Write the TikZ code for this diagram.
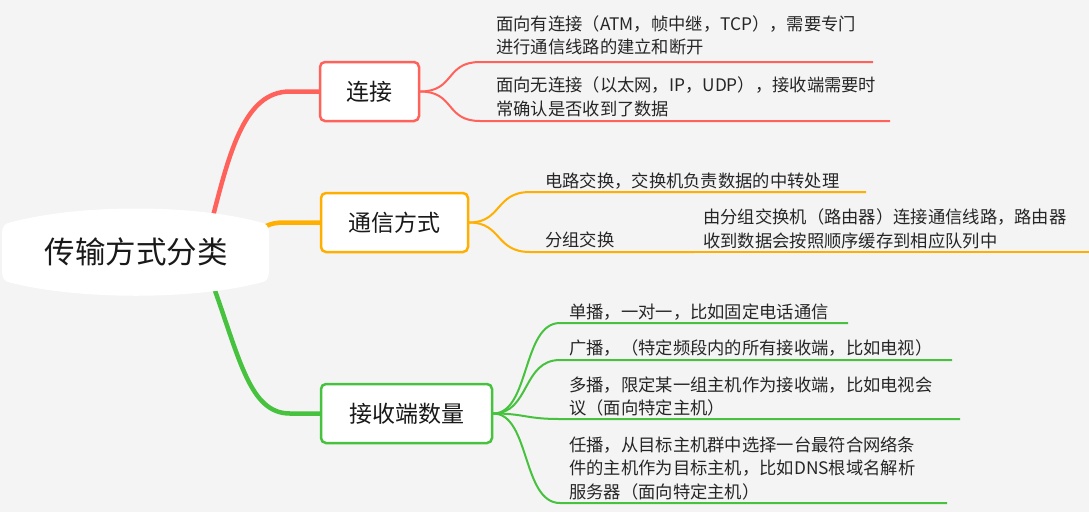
\documentclass[tikz,border=0pt]{standalone}
\usepackage{fontspec}
\newfontfamily\cjk{Noto Sans CJK SC}
\definecolor{bgcol}{HTML}{F4F4F4}
\definecolor{cred}{HTML}{FF625A}
\definecolor{corange}{HTML}{FFAF00}
\definecolor{cgreen}{HTML}{47C23E}
\tikzset{
  topicbox/.style={draw=#1, line width=2.5pt, rounded corners=5pt, fill=white,
    minimum height=59pt, inner sep=0pt, font=\cjk\fontsize{23}{26}\selectfont, text=black!90},
  trunk/.style={draw=#1, line width=4.5pt},
  branch/.style={draw=#1, line width=2pt},
  leaf/.style={anchor=west, inner sep=0pt, align=left, font=\cjk\fontsize{17.3}{23.5}\selectfont, text=black!85},
}
\begin{document}
\begin{tikzpicture}[x=1pt,y=-1pt]
\useasboundingbox (0,0) rectangle (1089,512);
\fill[bgcol] (0,0) rectangle (1089,512);

% topics
\node[topicbox=cred, minimum width=99pt] (conn) at (369.5,91.5) {连接};
\node[topicbox=corange, minimum width=147pt] (comm) at (394.5,222.5) {通信方式};
\node[topicbox=cgreen, minimum width=171pt] (recv) at (406.5,413.5) {接收端数量};

% trunk start coordinates
\coordinate (rtop) at (212,220);
\coordinate (rright) at (262,228);
\coordinate (rbot) at (213,285);

\draw[trunk=cred] (rtop) .. controls (230,150) and (245,91.5) .. (290,91.5) -- (conn.west);
\draw[trunk=corange] (rright) .. controls (272,223) and (276,222.5) .. (286,222.5) -- (comm.west);
\draw[trunk=cgreen] (rbot) .. controls (240,360) and (250,413.5) .. (290,413.5) -- (recv.west);

% root shape
\fill[white] (2,233) .. controls (2,226) and (5,223) .. (12,222)
  .. controls (80,204) and (192,204) .. (259,222)
  .. controls (266,223) and (269,226) .. (269,233) -- (269,272)
  .. controls (269,279) and (266,282) .. (259,283)
  .. controls (192,300) and (80,300) .. (12,283)
  .. controls (5,282) and (2,279) .. (2,272) -- cycle;
\node[font=\cjk\fontsize{30.5}{34}\selectfont, text=black!90, inner sep=0pt] (root) at (136,252) {传输方式分类};

% red branches
\coordinate (r1e) at (873,62);
\coordinate (r2e) at (890,121);
\draw[branch=cred] (conn.east) .. controls (455,91.5) and (445,62) .. (480,62) -- (r1e);
\draw[branch=cred] (conn.east) .. controls (455,91.5) and (445,121) .. (480,121) -- (r2e);
\node[leaf] (t1) at (496,35.5) {面向有连接（ATM，帧中继，TCP），需要专门\\进行通信线路的建立和断开};
\node[leaf] (t2) at (496,97) {面向无连接（以太网，IP，UDP），接收端需要时\\常确认是否收到了数据};

% orange branches
\coordinate (o1e) at (866,192);
\coordinate (o2e) at (694,252);
\coordinate (o3e) at (1089,252);
\draw[branch=corange] (comm.east) .. controls (502,222.5) and (495,192) .. (530,192) -- (o1e);
\draw[branch=corange] (comm.east) .. controls (502,222.5) and (495,252) .. (530,252) -- (o2e);
\draw[corange, line width=1.2pt] (o2e) -- (o3e);
\node[leaf] (t3) at (545,181) {电路交换，交换机负责数据的中转处理};
\node[leaf] (t4) at (545,240) {分组交换};
\node[leaf] (t5) at (703,229) {由分组交换机（路由器）连接通信线路，路由器\\收到数据会按照顺序缓存到相应队列中};

% green branches
\coordinate (g1e) at (848,323);
\coordinate (g2e) at (952,360);
\coordinate (g3e) at (960,419);
\coordinate (g4e) at (947,503);
\draw[branch=cgreen] (recv.east) .. controls (530,413.5) and (522,323) .. (560,323) -- (g1e);
\draw[branch=cgreen] (recv.east) .. controls (530,413.5) and (522,360) .. (560,360) -- (g2e);
\draw[branch=cgreen] (recv.east) .. controls (525,413.5) and (525,419) .. (560,419) -- (g3e);
\draw[branch=cgreen] (recv.east) .. controls (530,413.5) and (522,503) .. (560,503) -- (g4e);
\node[leaf] (t6) at (569,312) {单播，一对一，比如固定电话通信};
\node[leaf] (t7) at (569,348) {广播，（特定频段内的所有接收端，比如电视）};
\node[leaf] (t8) at (569,396.5) {多播，限定某一组主机作为接收端，比如电视会\\议（面向特定主机）};
\node[leaf] (t9) at (569,468) {任播，从目标主机群中选择一台最符合网络条\\件的主机作为目标主机，比如DNS根域名解析\\服务器（面向特定主机）};
\end{tikzpicture}
\end{document}
